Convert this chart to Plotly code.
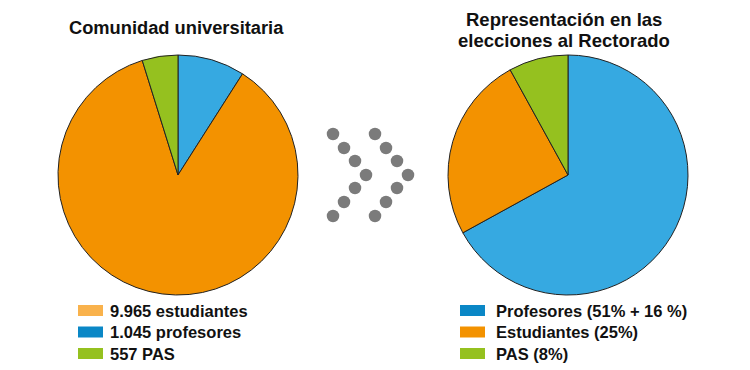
import plotly.graph_objects as go

# ---- data ----
left_title = "Comunidad universitaria"
left_labels = ["1.045 profesores", "9.965 estudiantes", "557 PAS"]
left_values = [1045, 9965, 557]
left_legend = ["9.965 estudiantes", "1.045 profesores", "557 PAS"]

right_title_lines = ["Representación en las", "elecciones al Rectorado"]
right_labels = ["Profesores (51% + 16 %)", "Estudiantes (25%)", "PAS (8%)"]
right_values = [67, 25, 8]
right_legend = ["Profesores (51% + 16 %)", "Estudiantes (25%)", "PAS (8%)"]

# ---- styles ----
OFF = 8  # page body margin in the browser
W, H = 750 - OFF, 370 - OFF
C_BLUE = "#36A9E1"
C_ORANGE = "#F39200"
C_GREEN = "#95C11F"
C_BLUE_DARK = "#0A87C6"
C_ORANGE_LIGHT = "#F9B24C"
FONT = "Liberation Sans, Arial, sans-serif"
DOT = "#7B7B7B"

left_pie_colors = [C_BLUE, C_ORANGE, C_GREEN]
right_pie_colors = [C_BLUE, C_ORANGE, C_GREEN]
left_legend_colors = [C_ORANGE_LIGHT, C_BLUE_DARK, C_GREEN]
right_legend_colors = [C_BLUE_DARK, C_ORANGE, C_GREEN]


def px_x(p):
    return (p - OFF) / W


def px_y(p):
    return 1 - (p - OFF) / H


fig = go.Figure()

pie_common = dict(sort=False, direction="clockwise", rotation=0,
                  textinfo="none", hoverinfo="label+value", showlegend=False)
fig.add_trace(go.Pie(labels=left_labels, values=left_values,
                     marker=dict(colors=left_pie_colors, line=dict(color="#222", width=1)),
                     domain=dict(x=[px_x(58), px_x(298)], y=[px_y(295), px_y(55)]),
                     **pie_common))
fig.add_trace(go.Pie(labels=right_labels, values=right_values,
                     marker=dict(colors=right_pie_colors, line=dict(color="#222", width=1)),
                     domain=dict(x=[px_x(448), px_x(688)], y=[px_y(295), px_y(55)]),
                     **pie_common))

# chevron dots (decoration)
chev_dx = [0, 11, 22, 33, 22, 11, 0]
chev_dy = [-41, -27, -14, 0, 13, 27, 41]
dots_x, dots_y = [], []
for x0 in (333, 375):
    dots_x += [x0 + d for d in chev_dx]
    dots_y += [175 + d for d in chev_dy]
fig.add_trace(go.Scatter(x=dots_x, y=dots_y, mode="markers",
                         marker=dict(size=12.5, color=DOT), hoverinfo="skip",
                         showlegend=False))

annotations = []
shapes = []
# titles
annotations.append(dict(x=176, y=27, text="<b>%s</b>" % left_title, showarrow=False,
                        xanchor="center", yanchor="middle",
                        font=dict(size=18.3, color="#111", family=FONT)))
for i, line in enumerate(right_title_lines):
    annotations.append(dict(x=564, y=19 + i * 21.5, text="<b>%s</b>" % line, showarrow=False,
                            xanchor="center", yanchor="middle",
                            font=dict(size=18.5, color="#111", family=FONT)))


def legend(x_sw, x_txt, y0, dy, labels, colors):
    for i, (lab, col) in enumerate(zip(labels, colors)):
        yc = y0 + i * dy
        shapes.append(dict(type="rect", xref="x", yref="y", x0=x_sw, x1=x_sw + 25,
                           y0=yc - 5.5, y1=yc + 5.5, fillcolor=col, line=dict(width=0)))
        annotations.append(dict(x=x_txt, y=yc, text="<b>%s</b>" % lab, showarrow=False,
                                xanchor="left", yanchor="middle",
                                font=dict(size=16.5, color="#111", family=FONT)))


legend(78, 108, 310.5, 21.5, left_legend, left_legend_colors)
legend(460, 494, 310.5, 21.5, right_legend, right_legend_colors)

fig.update_layout(
    width=W, height=H, margin=dict(l=0, r=0, t=0, b=0),
    paper_bgcolor="white", plot_bgcolor="white",
    xaxis=dict(range=[OFF, 750], visible=False, domain=[0, 1], fixedrange=True),
    yaxis=dict(range=[370, OFF], visible=False, domain=[0, 1], fixedrange=True),
    annotations=[dict(a, xref="x", yref="y") for a in annotations],
    shapes=shapes,
    showlegend=False,
)

fig.write_html("out.html")
